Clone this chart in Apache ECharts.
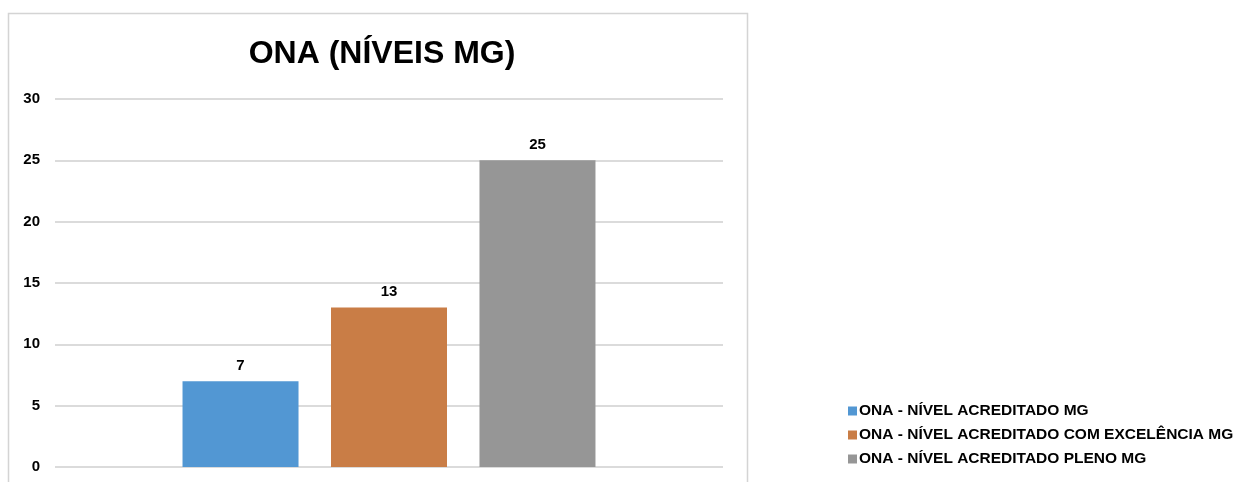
<!DOCTYPE html>
<html><head><meta charset="utf-8">
<script src="https://cdn.jsdelivr.net/npm/echarts@6/dist/echarts.min.js"></script>
<style>html,body{margin:0;padding:0;background:#fff}#c{width:1237px;height:482px}</style>
</head><body><div id="c"></div>
<script>
var categories = ['ONA (NÍVEIS MG)'];
var seriesNames = ['ONA - NÍVEL ACREDITADO MG', 'ONA - NÍVEL ACREDITADO COM EXCELÊNCIA MG', 'ONA - NÍVEL ACREDITADO PLENO MG'];
var acreditado = [7];
var excelencia = [13];
var pleno = [25];
var colors = ['#5297D3', '#C97D46', '#969696'];
var FONT = '"Liberation Sans Narrow","Arial Narrow","Liberation Sans",Arial,sans-serif';
var chart = echarts.init(document.getElementById('c'));
var values = [acreditado, excelencia, pleno];
chart.setOption({
  animation: false,
  color: colors,
  graphic: [{type:'rect', shape:{x:8.5,y:13.5,width:739,height:490}, style:{fill:'none',stroke:'#d4d4d4',lineWidth:1.5}, z:-1}],
  title: {text: 'ONA (NÍVEIS MG)', left: 377, textAlign: 'center', top: 33,
    textStyle: {fontFamily: FONT, fontSize: 32, fontWeight: 'bold', color: '#000'}},
  legend: {orient: 'vertical', left: 843, top: 398, itemWidth: 9, itemHeight: 9, itemGap: 8,
    icon: 'rect', textStyle: {fontFamily: FONT, fontSize: 15.5, fontWeight: 'bold', color: '#000', padding:[0,0,0,-3]}},
  grid: {left: 55, right: 1237-723, top: 99, bottom: 482-467, containLabel: false},
  xAxis: {type: 'category', data: categories, axisLine: {show: false}, axisTick: {show: false}, axisLabel: {show: false}},
  yAxis: {type: 'value', min: 0, max: 30, interval: 5,
    axisLine: {show: false}, axisTick: {show: false},
    axisLabel: {margin: 15, fontFamily: FONT, fontSize: 15, fontWeight: 'bold', color: '#000'},
    splitLine: {lineStyle: {color: '#cfcfcf', width: 1.5}}},
  series: seriesNames.map(function(n, i){
    return {name: n, type: 'bar', data: values[i], barWidth: 116, barGap: '28%',
      label: {show: true, position: 'top', distance: 8, fontFamily: FONT, fontSize: 15, fontWeight: 'bold', color: '#000'}};
  })
});
</script></body></html>
